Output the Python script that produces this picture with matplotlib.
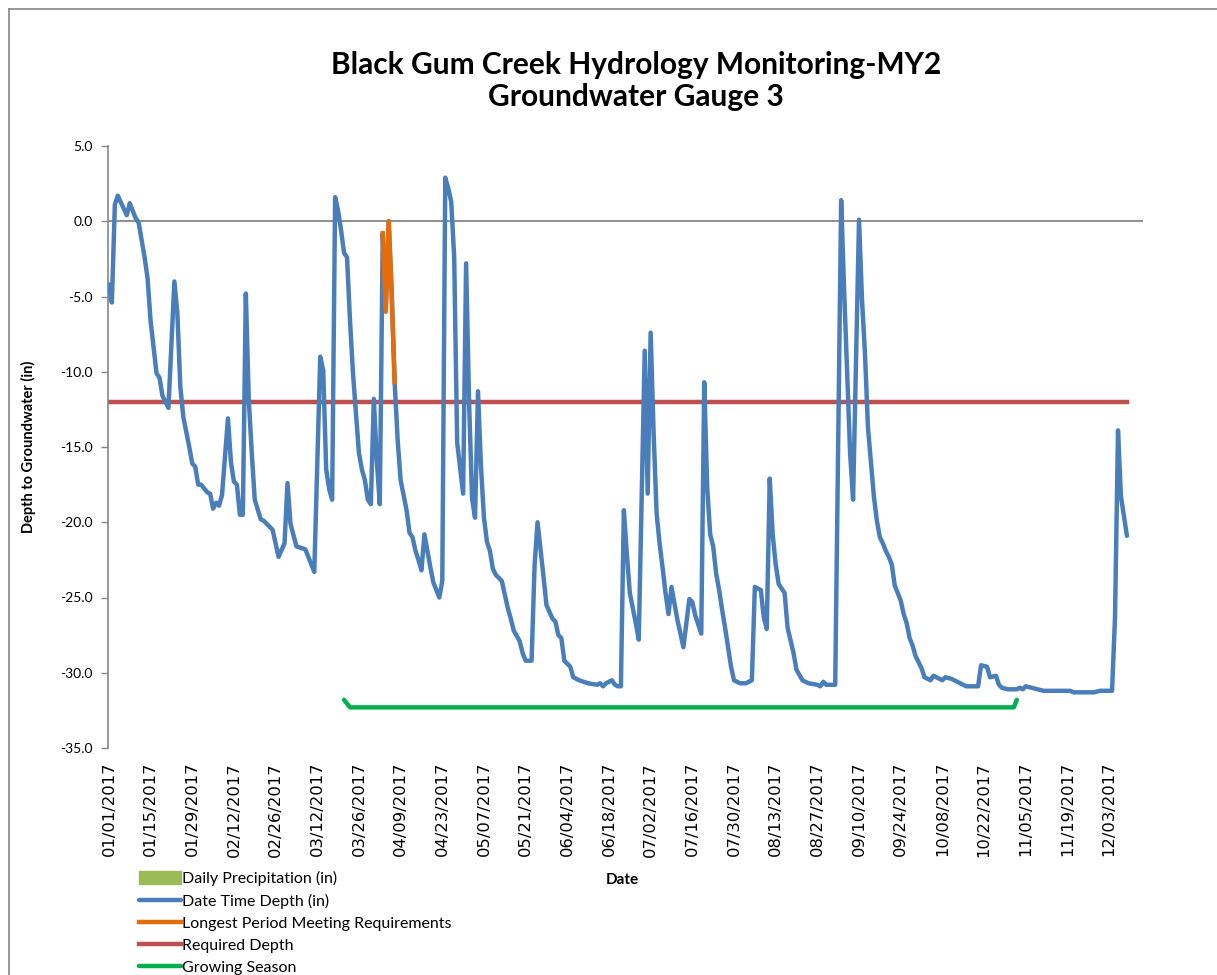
import numpy as np
import matplotlib
matplotlib.use("Agg")
import matplotlib.pyplot as plt
import matplotlib.patches as mpatches
from matplotlib.lines import Line2D
from datetime import datetime, timedelta

# ---------------- data ----------------
start_date = "2017-01-01"

depth_days = [0, 1, 2, 3, 6, 7, 9, 10, 12, 13, 14, 16, 17, 18, 20, 22, 23, 24, 25, 27,
              28, 29, 30, 31, 33, 34, 35, 36, 37, 38, 40, 41, 42, 43, 44, 45, 46, 47, 48, 49,
              51, 52, 54, 55, 57, 59, 60, 61, 63, 66, 67, 69, 71, 72, 73, 74, 75, 76, 77, 78,
              79, 80, 81, 82, 84, 85, 86, 87, 88, 89, 90, 91, 92, 93, 94, 95, 96, 97, 98, 100,
              101, 102, 103, 104, 105, 106, 108, 109, 111, 112, 113, 114, 115, 116, 117, 119, 120, 121, 122, 123,
              124, 125, 126, 127, 128, 129, 130, 132, 134, 135, 136, 138, 139, 140, 142, 143, 144, 146, 147, 149,
              150, 151, 152, 153, 155, 156, 158, 161, 164, 165, 166, 167, 169, 170, 171, 172, 173, 174, 175, 177,
              178, 180, 181, 182, 183, 184, 185, 186, 187, 188, 189, 190, 191, 192, 193, 195, 196, 197, 198, 199,
              200, 201, 202, 203, 204, 205, 206, 207, 208, 209, 210, 212, 214, 216, 217, 219, 220, 221, 222, 223,
              224, 225, 227, 228, 230, 231, 233, 235, 238, 239, 240, 241, 244, 246, 247, 249, 250, 252, 253, 254,
              255, 257, 258, 259, 260, 261, 262, 263, 264, 265, 266, 267, 268, 269, 270, 271, 273, 274, 276, 277,
              278, 280, 281, 283, 285, 286, 288, 292, 293, 295, 296, 298, 299, 300, 302, 305, 306, 307, 308, 310,
              312, 314, 323, 324, 331, 333, 337, 338, 339, 340, 341, 342]
depth_vals = [-4.2, -5.4, 1.1, 1.7, 0.4, 1.2, 0.2, -0.1, -2.4, -3.8, -6.6, -10.1, -10.4, -11.6, -12.4, -4.0, -6.1, -11.0, -13.0, -15.0,
              -16.1, -16.3, -17.5, -17.5, -18.0, -18.1, -19.1, -18.7, -18.9, -18.2, -13.1, -16.0, -17.3, -17.5, -19.5, -19.5, -4.8, -11.9, -15.4, -18.5,
              -19.8, -19.9, -20.3, -20.5, -22.3, -21.4, -17.4, -20.1, -21.6, -21.8, -22.3, -23.3, -9.0, -9.9, -16.5, -17.8, -18.5, 1.6, 0.7, -0.6,
              -2.1, -2.4, -6.6, -10.1, -15.4, -16.5, -17.2, -18.5, -18.8, -11.8, -15.9, -18.8, -0.8, -6.0, 0.0, -4.8, -10.7, -14.5, -17.2, -19.2,
              -20.7, -21.0, -21.9, -22.5, -23.2, -20.8, -23.0, -24.0, -25.0, -23.9, 2.9, 2.2, 1.3, -2.4, -14.7, -18.1, -2.8, -12.0, -18.4, -19.7,
              -11.3, -16.3, -19.7, -21.3, -21.9, -23.1, -23.5, -23.9, -25.7, -26.4, -27.2, -27.9, -28.7, -29.2, -29.2, -22.9, -20.0, -23.6, -25.5, -26.4,
              -26.6, -27.5, -27.7, -29.2, -29.6, -30.3, -30.5, -30.7, -30.8, -30.7, -30.9, -30.7, -30.5, -30.8, -30.9, -30.9, -19.2, -22.1, -24.7, -26.7,
              -27.8, -8.6, -18.1, -7.4, -14.1, -19.4, -21.4, -23.0, -24.7, -26.1, -24.3, -25.4, -26.5, -27.4, -28.3, -25.1, -25.3, -26.2, -26.8, -27.4,
              -10.7, -17.7, -20.8, -21.6, -23.4, -24.5, -25.8, -27.0, -28.3, -29.6, -30.5, -30.7, -30.7, -30.5, -24.3, -24.5, -26.3, -27.1, -17.1, -20.8,
              -22.8, -24.1, -24.7, -27.0, -28.7, -29.8, -30.5, -30.7, -30.8, -30.9, -30.6, -30.8, -30.8, 1.4, -4.6, -15.4, -18.5, 0.1, -5.2, -8.8,
              -13.7, -18.3, -19.9, -21.0, -21.4, -21.9, -22.3, -22.8, -24.2, -24.7, -25.2, -26.1, -26.7, -27.7, -28.2, -28.9, -29.7, -30.3, -30.5, -30.2,
              -30.3, -30.5, -30.3, -30.4, -30.6, -30.7, -30.9, -30.9, -29.5, -29.6, -30.3, -30.2, -30.8, -31.0, -31.1, -31.1, -31.0, -31.1, -30.9, -31.0,
              -31.1, -31.2, -31.2, -31.3, -31.3, -31.2, -31.2, -26.3, -13.9, -18.3, -19.6, -20.9]

longest_days = [92, 93, 94, 95, 96]
longest_vals = [-0.8, -6.0, 0.0, -4.8, -10.7]

required_days = [0, 342]
required_vals = [-12.0, -12.0]

growing_days = [79, 81, 304, 305]
growing_vals = [-31.8, -32.3, -32.3, -31.8]

precip_days = []
precip_vals = []

y_ticks = [5, 0, -5, -10, -15, -20, -25, -30, -35]
tick_step_days = 14
last_tick_day = 336

title_text = "Black Gum Creek Hydrology Monitoring-MY2\nGroundwater Gauge 3"

# ---------------- helpers ----------------
base = datetime.strptime(start_date, "%Y-%m-%d")
def to_dates(days):
    return [base + timedelta(days=d) for d in days]

# ---------------- figure ----------------
W, H = 1217, 975
fig = plt.figure(figsize=(W / 100, H / 100), dpi=100)
ax = fig.add_axes([108 / W, 1 - 748 / H, (1143 - 108) / W, (748 - 146) / H])

blue = "#4A7EBB"
orange = "#E46C0A"
red = "#C0504D"
green = "#00B050"
pgreen = "#9BBB59"
lw = 3.2

ax.bar(to_dates(precip_days), precip_vals, color=pgreen)
ax.axhline(0, color="#868686", lw=1.3, zorder=1)
ax.plot(to_dates(depth_days), depth_vals, color=blue, lw=lw, solid_joinstyle="round",
        solid_capstyle="round", label="Date Time Depth (in)", zorder=3)
ax.plot(to_dates(longest_days), longest_vals, color=orange, lw=lw, solid_joinstyle="round",
        label="Longest Period Meeting Requirements", zorder=4)
ax.plot(to_dates(required_days), required_vals, color=red, lw=lw,
        label="Required Depth", zorder=2)
ax.plot(to_dates(growing_days), growing_vals, color=green, lw=lw, solid_joinstyle="round",
        solid_capstyle="round", label="Growing Season", zorder=2)

ax.set_xlim(base - timedelta(days=0.3), base + timedelta(days=347.4))
ax.set_ylim(-35, 5)

tick_dates = to_dates(list(range(0, last_tick_day + 1, tick_step_days)))
ax.set_xticks(tick_dates)
ax.set_xticklabels([d.strftime("%m/%d/%Y") for d in tick_dates], rotation=90,
                   fontsize=11.8, family="DejaVu Sans", color="#000000")
ax.tick_params(axis="x", length=0, pad=10)

ax.set_yticks(y_ticks)
ax.set_yticklabels([f"{v:.1f}" for v in y_ticks], fontsize=10, family="Lato")
ax.tick_params(axis="y", length=5, width=1, color="#868686", pad=6)

for s in ["top", "right", "bottom"]:
    ax.spines[s].set_visible(False)
ax.spines["left"].set_color("#868686")
ax.spines["left"].set_linewidth(1.2)

fig.text(636 / W, 1 - 81 / H, title_text, ha="center", va="center", fontsize=21.5,
         fontweight="bold", family="Lato", linespacing=1.2)
fig.text(28 / W, 1 - 447 / H, "Depth to Groundwater (in)", rotation=90, ha="center",
         va="center", fontsize=10.5, fontweight="bold", family="Lato")
fig.text(622 / W, 1 - 880 / H, "Date", ha="center", va="center", fontsize=11,
         fontweight="bold", family="Lato")

handles, labels = ax.get_legend_handles_labels()
hmap = dict(zip(labels, handles))
precip_handle = mpatches.Patch(facecolor=pgreen, edgecolor=pgreen)
order = ["Daily Precipitation (in)", "Date Time Depth (in)", "Longest Period Meeting Requirements",
         "Required Depth", "Growing Season"]
hlist = [precip_handle] + [hmap[o] for o in order[1:]]
leg = fig.legend(hlist, order, loc="upper left",
                 bbox_to_anchor=(139 / W, 1 - 871 / H), frameon=False,
                 prop={"family": "Lato", "size": 11.5}, handlelength=2.6, handletextpad=0.1,
                 labelspacing=0.47, borderpad=0, borderaxespad=0, handleheight=0.8)

# chart border (top & left)
fig.add_artist(Line2D([9 / W, 1], [1 - 9 / H, 1 - 9 / H], color="#868686", lw=1.2))
fig.add_artist(Line2D([9 / W, 9 / W], [0, 1 - 9 / H], color="#868686", lw=1.2))

fig.savefig("out.png", dpi=100)
